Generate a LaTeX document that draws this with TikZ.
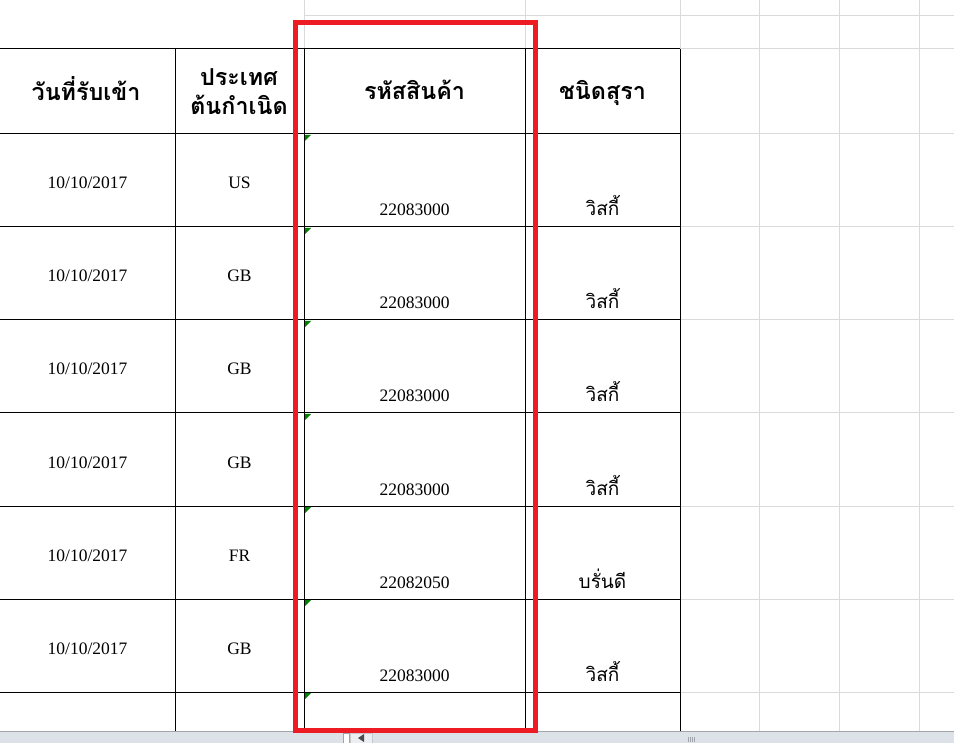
\documentclass[tikz,border=0pt]{standalone}
\usepackage{fontspec}
\setmainfont{Liberation Serif}
\newfontfamily\thaifont[Script=Thai]{Loma}
\definecolor{gridgrey}{RGB}{218,218,218}
\definecolor{markred}{RGB}{237,28,36}
\definecolor{flaggreen}{RGB}{0,128,0}
\definecolor{barfill}{RGB}{221,226,233}
\definecolor{barline}{RGB}{160,165,172}
\tikzset{
  gridline/.style={draw=gridgrey,line width=1pt},
  cellline/.style={draw=black,line width=1pt},
  numtext/.style={font=\fontsize{17.5}{21}\selectfont,anchor=base,inner sep=0pt},
  thaitext/.style={font=\thaifont\fontsize{19}{23}\selectfont,anchor=base,inner sep=0pt},
  headtext/.style={font=\thaifont\bfseries\fontsize{23.3}{28}\selectfont,anchor=base,inner sep=0pt}
}

\begin{document}
\begin{tikzpicture}[x=1pt,y=-1pt]
\useasboundingbox (0,0) rectangle (954,743);
\fill[white] (0,0) rectangle (954,743);

% sheet grid
\foreach \x in {759,839,919} \draw[gridline] (\x,0) -- (\x,731);
\foreach \x in {304,525,680} \draw[gridline] (\x,0) -- (\x,49);
\draw[gridline] (304,16) -- (954,16);
\foreach \y in {49,134,227,320,413,506,599,692} \draw[gridline] (680,\y) -- (954,\y);

% table lines
\foreach \y in {49,134,227,320,413,506,599,692} \draw[cellline] (0,\y) -- (680,\y);
\foreach \x in {175,304,525,680} \draw[cellline] (\x,49) -- (\x,731);
\foreach \y in {134,227,320,413,506,599,692}
  \fill[flaggreen] (305,{\y+1}) -- (311,{\y+1}) -- (305,{\y+7}) -- cycle;

% header
\node[headtext] (hdate) at (86,101) {วันที่รับเข้า};
\node[headtext] (horigin) at (239,86) {ประเทศ};
\node[headtext] (horiginb) at (239,115) {ต้นกำเนิด};
\node[headtext] (hcode) at (414.5,100) {รหัสสินค้า};
\node[headtext] (hkind) at (602.5,100) {ชนิดสุรา};

% rows
\foreach \i/\cty/\code/\kind [evaluate=\i as \top using {134+93*(\i-1)}] in
  {1/US/22083000/วิสกี้, 2/GB/22083000/วิสกี้, 3/GB/22083000/วิสกี้,
   4/GB/22083000/วิสกี้, 5/FR/22082050/บรั่นดี, 6/GB/22083000/วิสกี้}
{
  \node[numtext] (date\i) at (87.5,{\top+55}) {10/10/2017};
  \node[numtext] (cty\i) at (239.5,{\top+55}) {\cty};
  \node[numtext] (code\i) at (414.5,{\top+82}) {\code};
  \node[thaitext] (kind\i) at (602.5,{\top+82}) {\kind};
}

% scroll bar
\fill[barfill] (0,731) rectangle (954,743);
\draw[barline] (0,731.5) -- (954,731.5);
\draw[barline,fill=white] (343.5,733.5) rectangle (349.5,743);
\draw[barline!60,fill=barfill!60] (350.5,733.5) rectangle (372.5,743);
\fill[black!70] (358,738) -- (364,734) -- (364,742) -- cycle;
\foreach \x in {688,690,692,694} \draw[barline,line width=0.8pt] (\x,737) -- (\x,742);

% highlight
\draw[markred,line width=5pt] (295.5,23) rectangle (535.5,730.5);
\end{tikzpicture}
\end{document}
